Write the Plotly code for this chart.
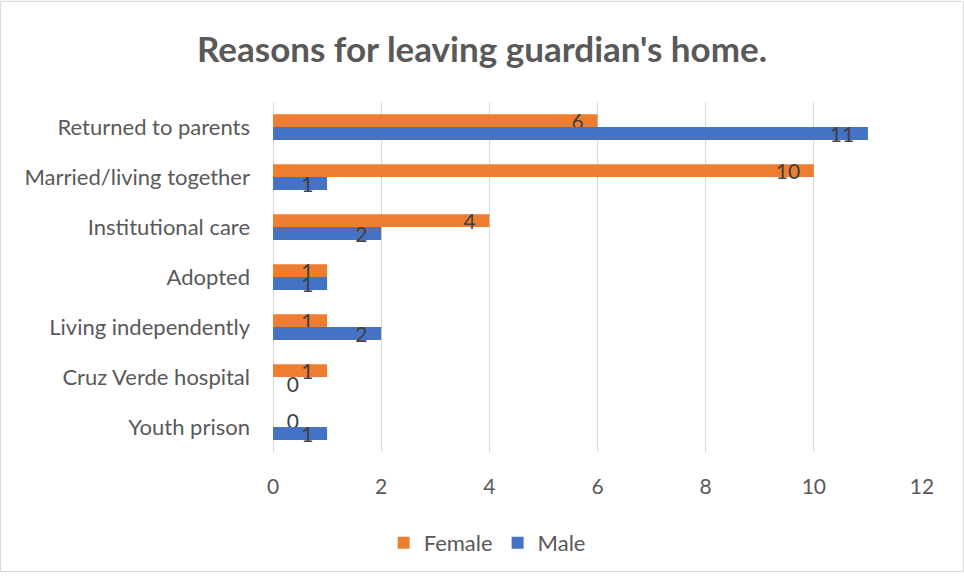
import plotly.graph_objects as go

categories = [
    "Returned to parents",
    "Married/living together",
    "Institutional care",
    "Adopted",
    "Living independently",
    "Cruz Verde hospital",
    "Youth prison",
]
female = [6, 10, 4, 1, 1, 1, 0]
male = [11, 1, 2, 1, 2, 0, 1]
x_ticks = [0, 2, 4, 6, 8, 10, 12]

ORANGE = "#ED7D31"
BLUE = "#4472C4"
GRID = "#D9D9D9"
FONT = "Lato"
NBSP = "\u00a0"

W, H = 964, 576
ML, MR, MT, MB = 273, 42, 102, 121


def label_pos(vals):
    return ["outside" if v == 0 else "inside" for v in vals]


def label_text(vals):
    # zero-length bars get their label just right of the axis,
    # the others sit inside the bar near its end
    return [NBSP * 2 + str(v) if v == 0 else str(v) + NBSP * 2 for v in vals]


fig = go.Figure()
for name, vals, color in [("Female", female, ORANGE), ("Male", male, BLUE)]:
    fig.add_trace(go.Bar(
        name=name,
        y=categories,
        x=vals,
        orientation="h",
        marker=dict(color=color, line=dict(width=0)),
        text=label_text(vals),
        textposition=label_pos(vals),
        insidetextanchor="end",
        textangle=0,
        textfont=dict(family=FONT, size=21, color="#404040"),
        cliponaxis=False,
    ))

# thin frame around the whole chart area
pw = W - ML - MR
ph = H - MT - MB
fig.add_shape(
    type="rect", xref="paper", yref="paper",
    x0=(0.5 - ML) / pw, x1=(W - 0.5 - ML) / pw,
    y0=-(MB - 0.5) / ph, y1=(H - MB - 0.5) / ph,
    line=dict(color=GRID, width=1), fillcolor="rgba(0,0,0,0)", layer="below",
)

fig.update_layout(
    width=W, height=H,
    margin=dict(l=ML, r=MR, t=MT, b=MB, pad=0),
    paper_bgcolor="white", plot_bgcolor="white",
    barmode="group", bargap=0.485, bargroupgap=0,
    uniformtext=dict(minsize=21, mode="show"),
    title=dict(
        text="<b>Reasons for leaving guardian's home.</b>",
        x=0.5, xref="container", xanchor="center",
        y=1 - 50 / H, yref="container", yanchor="middle",
        font=dict(family=FONT, size=35, color="#595959"),
    ),
    font=dict(family=FONT, size=22, color="#595959"),
    xaxis=dict(
        range=[0, 12], tickvals=x_ticks, ticktext=[str(t) for t in x_ticks],
        showgrid=True, gridcolor=GRID, gridwidth=1,
        zeroline=True, zerolinecolor=GRID, zerolinewidth=1,
        showline=False, ticks="", ticklabelstandoff=20,
        tickfont=dict(family=FONT, size=21, color="#595959"),
        fixedrange=True,
    ),
    yaxis=dict(
        autorange="reversed", categoryorder="array", categoryarray=categories,
        showgrid=False, zeroline=False, showline=False, ticks="",
        ticklabelstandoff=22,
        tickfont=dict(family=FONT, size=22, color="#595959"),
        fixedrange=True,
    ),
    legend=dict(
        orientation="h", x=0.33, xanchor="center", y=-0.2, yanchor="top",
        font=dict(family=FONT, size=22, color="#595959"),
        itemsizing="constant",
    ),
    showlegend=True,
)

fig.write_html("out.html")
